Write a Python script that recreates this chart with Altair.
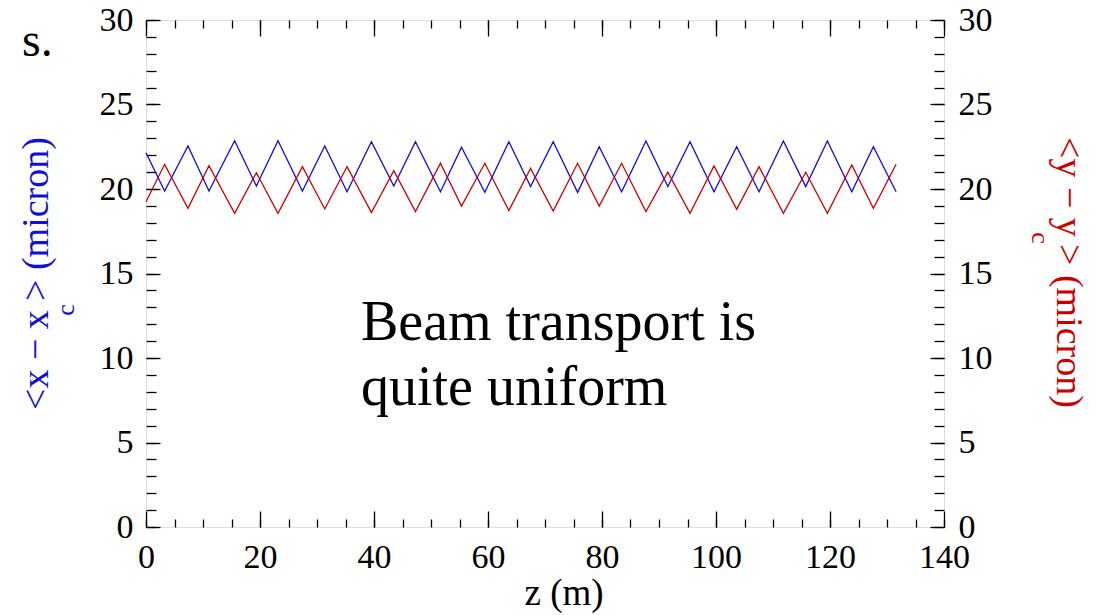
import altair as alt
import pandas as pd

# turning points of the two zig-zag traces (z in m, values in micron)
z = [0, 3.27, 7.36, 11.05, 15.55, 19.36, 23.16, 27.44, 31.36, 35.27, 39.55, 43.47,
     47.27, 51.66, 55.35, 59.45, 63.66, 67.47, 71.44, 75.72, 79.51, 83.44, 87.71,
     91.55, 95.44, 99.65, 103.63, 107.55, 111.82, 115.74, 119.54, 123.82, 127.61, 131.6]
x_dev = [22.15, 19.88, 22.54, 19.88, 22.86, 20.18, 22.86, 19.88, 22.54, 19.84, 22.8, 20.18,
         22.8, 19.84, 22.47, 19.8, 22.8, 20.14, 22.8, 19.8, 22.5, 19.84, 22.84,
         20.14, 22.8, 19.84, 22.5, 19.84, 22.84, 20.14, 22.84, 19.84, 22.5, 19.84]
y_dev = [19.25, 21.46, 18.86, 21.38, 18.56, 20.96, 18.56, 21.32, 18.82, 21.32, 18.6, 21.08,
         18.66, 21.52, 18.99, 21.52, 18.72, 21.22, 18.7, 21.52, 18.99, 21.52, 18.66,
         21.0, 18.56, 21.36, 18.8, 21.32, 18.56, 20.99, 18.56, 21.42, 18.86, 21.46]

x_major = [0, 20, 40, 60, 80, 100, 120, 140]
x_minor = list(range(0, 141, 5))
y_major = [0, 5, 10, 15, 20, 25, 30]
y_minor = list(range(0, 31, 1))

df = pd.DataFrame({"z": z, "xd": x_dev, "yd": y_dev})

FONT = "Liberation Serif"
BLUE = "#1010d8"
RED = "#cc0000"

xs = alt.Scale(domain=[0, 140], nice=False, zero=False)
ys = alt.Scale(domain=[0, 30], nice=False, zero=False)

def ax(orient, values, size, labels, pad=12):
    kw = dict(orient=orient, values=values, tickSize=size, offset=-size, domain=False,
              grid=False, labels=labels, title=None, tickColor="black", tickWidth=1.3)
    if labels:
        kw.update(labelFont=FONT, labelFontSize=34, labelColor="black", labelPadding=pad,
                  labelFlush=False, labelOverlap=False)
    return alt.Axis(**kw)

base = alt.Chart(df)

blue = base.mark_line(color=BLUE, strokeWidth=1.3).encode(
    x=alt.X("z:Q", scale=xs, axis=ax("bottom", x_major, 16, True, 13)),
    y=alt.Y("xd:Q", scale=ys, axis=ax("left", y_major, 14, True, 13)),
)
red = base.mark_line(color=RED, strokeWidth=1.3).encode(
    x=alt.X("z:Q", scale=xs, axis=ax("top", x_major, 16, False)),
    y=alt.Y("yd:Q", scale=ys, axis=ax("right", y_major, 14, True, 14)),
)
minor1 = base.mark_line(opacity=0).encode(
    x=alt.X("z:Q", scale=xs, axis=ax("bottom", x_minor, 8, False)),
    y=alt.Y("xd:Q", scale=ys, axis=ax("left", y_minor, 10, False)),
)
minor2 = base.mark_line(opacity=0).encode(
    x=alt.X("z:Q", scale=xs, axis=ax("top", x_minor, 8, False)),
    y=alt.Y("yd:Q", scale=ys, axis=ax("right", y_minor, 10, False)),
)

def txt(s, x, y, size, color="black", angle=0, align="left", baseline="alphabetic"):
    return alt.Chart(pd.DataFrame({"t": [s]})).mark_text(
        font=FONT, fontSize=size, color=color, angle=angle, align=align, baseline=baseline
    ).encode(text="t:N", x=alt.value(x), y=alt.value(y))

texts = [
    txt("<x − x", -109, 390, 38, BLUE, 270, "left", "middle"),
    txt("c", -80, 290, 26, BLUE, 270, "center", "middle"),
    txt("> (micron)", -109, 281, 38, BLUE, 270, "left", "middle"),
    txt("<y − y", 922, 117, 38, RED, 90, "left", "middle"),
    txt("c", 894, 218, 26, RED, 90, "center", "middle"),
    txt("> (micron)", 922, 224, 38, RED, 90, "left", "middle"),
    txt("z (m)", 418, 574, 37, "black", 0, "center", "middle"),
    txt("Beam transport is", 215, 320, 56),
    txt("quite uniform", 215, 385, 56),
    txt("s.", -124, 36, 48),
]

chart = alt.layer(blue, red, minor1, minor2, *texts).resolve_axis(
    x="independent", y="independent"
).properties(
    width=798, height=507,
    autosize=alt.AutoSizeParams(type="none"),
    padding={"left": 146, "top": 20, "right": 155, "bottom": 88},
).configure_view(stroke="black", strokeWidth=1.5).configure(background="white")

chart.save("out.html", embed_options={"renderer": "svg", "actions": False})
